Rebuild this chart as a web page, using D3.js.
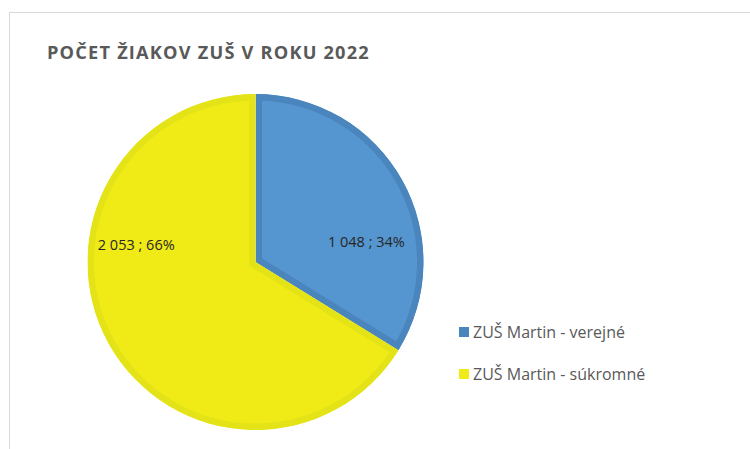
<!DOCTYPE html>
<html>
<head>
<meta charset="utf-8">
<script src="https://cdn.jsdelivr.net/npm/d3@7"></script>
<style>
  body { margin: 0; background: #fff; }
  text { font-family: "Open Sans", "Liberation Sans", sans-serif; }
</style>
</head>
<body>
<div id="chart"></div>
<script>
// Data
var categories = ["ZUŠ Martin - verejné", "ZUŠ Martin - súkromné"];
var values = [1048, 2053];
var title = "POČET ŽIAKOV ZUŠ V ROKU 2022";

var width = 750, height = 449;
var fills = ["#5596d0", "#f0eb17"],
    strokes = ["#4a85bd", "#e3e318"];

var svg = d3.select("#chart").append("svg")
    .attr("width", width)
    .attr("height", height);

// chart frame
svg.append("rect")
    .attr("x", 9.5).attr("y", 12.5)
    .attr("width", 800).attr("height", 500)
    .attr("fill", "#fff")
    .attr("stroke", "#d9d9d9");

svg.append("text")
    .attr("x", 47).attr("y", 59)
    .style("font-size", "18.2px")
    .style("font-weight", "bold")
    .style("letter-spacing", "1.2px")
    .style("fill", "#595959")
    .text(title);

var cx = 255.5, cy = 262, radius = 168;
var total = d3.sum(values);

var pie = d3.pie().sort(null)(values);
var arc = d3.arc().innerRadius(0).outerRadius(radius);

var defs = svg.append("defs");
defs.selectAll("clipPath")
    .data(pie)
    .enter().append("clipPath")
    .attr("id", function(d, i) { return "clip" + i; })
    .append("path")
    .attr("d", arc);

var g = svg.append("g").attr("transform", "translate(" + cx + "," + cy + ")");

// inner border: double-width stroke clipped to the slice
g.selectAll("path.slice")
    .data(pie)
    .enter().append("path")
    .attr("class", "slice")
    .attr("d", arc)
    .attr("clip-path", function(d, i) { return "url(#clip" + i + ")"; })
    .attr("fill", function(d, i) { return fills[i]; })
    .attr("stroke", function(d, i) { return strokes[i]; })
    .attr("stroke-width", 13)
    .attr("stroke-linejoin", "miter");

// label placement as fraction of radius (Excel best fit)
var labelPos = [[0.66, -0.12], [-0.71, -0.10]];
var fmt = function(v) { return d3.format(",")(v).replace(/,/g, " "); };

g.selectAll("text.lbl")
    .data(pie)
    .enter().append("text")
    .attr("class", "lbl")
    .attr("x", function(d, i) { return labelPos[i][0] * radius; })
    .attr("y", function(d, i) { return labelPos[i][1] * radius; })
    .attr("dy", "0.35em")
    .attr("text-anchor", "middle")
    .style("font-size", "14.5px")
    .style("fill", "#262626")
    .text(function(d) { return fmt(d.value) + " ; " + Math.round(d.value / total * 100) + "%"; });

// Legend
var legend = svg.selectAll("g.leg")
    .data(categories)
    .enter().append("g")
    .attr("class", "leg")
    .attr("transform", function(d, i) { return "translate(459," + (332 + i * 42) + ")"; });

legend.append("rect")
    .attr("x", 0).attr("y", -5)
    .attr("width", 10).attr("height", 10)
    .attr("fill", function(d, i) { return i === 0 ? strokes[0] : fills[1]; });

legend.append("text")
    .attr("x", 14).attr("dy", "0.35em")
    .style("font-size", "16px")
    .style("fill", "#595959")
    .text(function(d) { return d; });
</script>
</body>
</html>
